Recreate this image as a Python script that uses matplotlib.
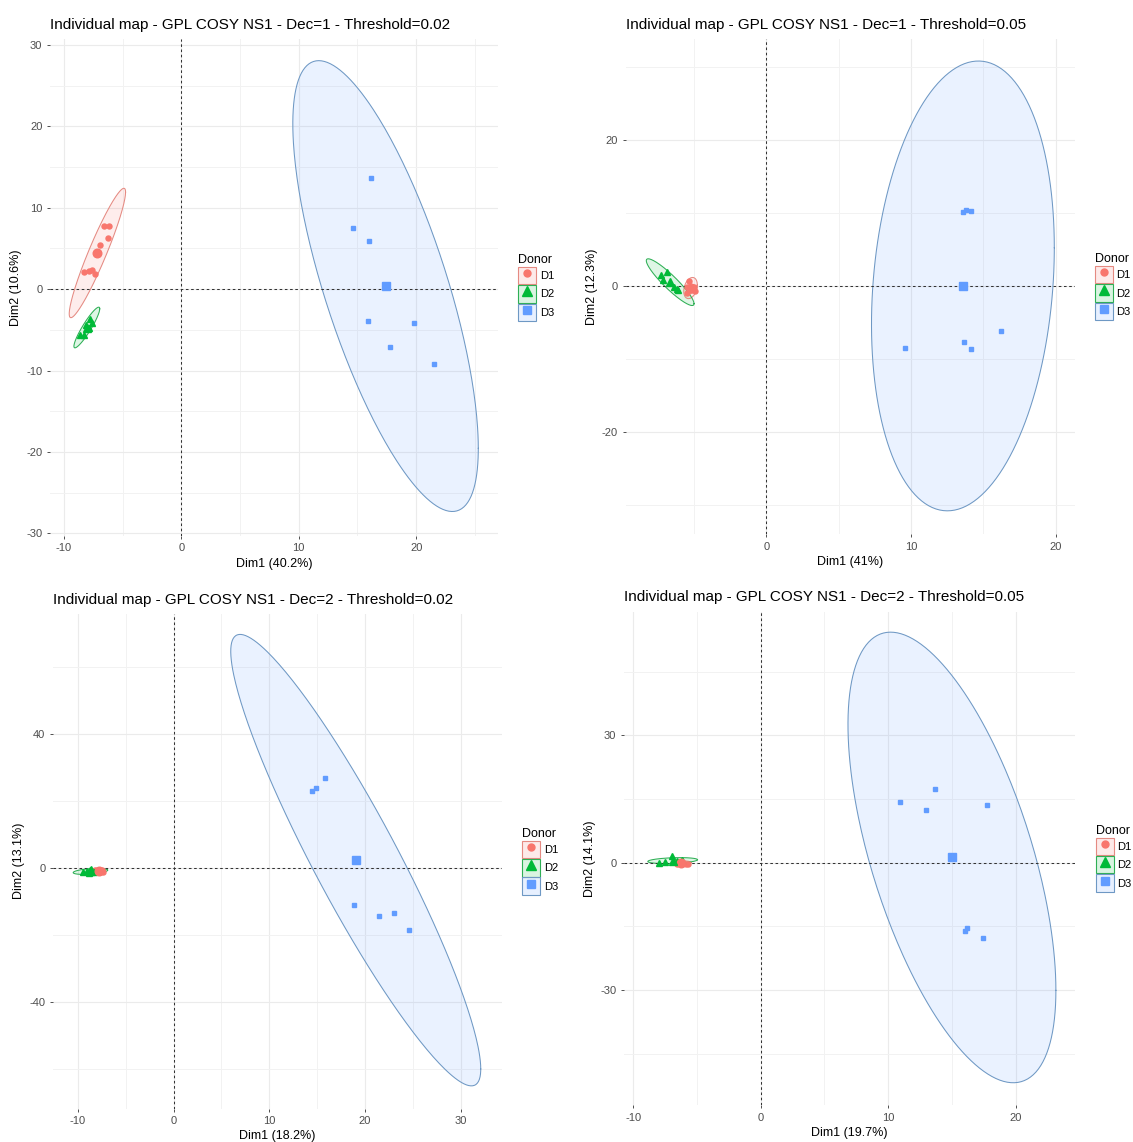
import numpy as np
import matplotlib
matplotlib.use('Agg')
import matplotlib.pyplot as plt
from matplotlib.lines import Line2D
from matplotlib.patches import Patch
from matplotlib.colors import to_rgba
from matplotlib.ticker import MultipleLocator

plt.rcParams['font.family'] = ['Liberation Sans', 'DejaVu Sans']
plt.rcParams['axes.unicode_minus'] = False

donors = ['D1', 'D2', 'D3']
colors = {'D1': '#F8766D', 'D2': '#00BA38', 'D3': '#619CFF'}
edge_colors = {'D1': '#E58A82', 'D2': '#2EAF55', 'D3': '#6E98C4'}
markers = {'D1': 'o', 'D2': '^', 'D3': 's'}

titles = ['Individual map - GPL COSY NS1 - Dec=1 - Threshold=0.02',
          'Individual map - GPL COSY NS1 - Dec=1 - Threshold=0.05',
          'Individual map - GPL COSY NS1 - Dec=2 - Threshold=0.02',
          'Individual map - GPL COSY NS1 - Dec=2 - Threshold=0.05']
xlabels = ['Dim1 (40.2%)', 'Dim1 (41%)', 'Dim1 (18.2%)', 'Dim1 (19.7%)']
ylabels = ['Dim2 (10.6%)', 'Dim2 (12.3%)', 'Dim2 (13.1%)', 'Dim2 (14.1%)']

# individual coordinates
dec1_002_x = {'D1': [-6.55, -6.15, -6.27, -6.9, -8.3, -7.9, -7.6, -7.38, -7.3],
              'D2': [-7.8, -7.57, -8.11, -8.26, -8.66, -7.9],
              'D3': [16.15, 14.6, 15.97, 15.9, 19.86, 17.79, 21.5]}
dec1_002_y = {'D1': [7.75, 7.75, 6.27, 5.4, 2.1, 2.25, 2.3, 1.85, 4.3],
              'D2': [-3.7, -4.2, -4.4, -5.6, -5.6, -4.8],
              'D3': [13.66, 7.56, 5.9, -3.9, -4.2, -7.14, -9.26]}
# ellipse spread: sd x, sd y, correlation
dec1_002_ell = {'D1': (2.4, 7.95, 0.94), 'D2': (1.1, 2.5, 0.92), 'D3': (7.9, 27.7, -0.72)}

dec1_005_x = {'D1': [-5.34, -5.52, -5.01, -5.24, -4.92, -5.48],
              'D2': [-7.26, -6.88, -7.13, -6.19, -6.4, -6.1],
              'D3': [13.6, 13.78, 14.11, 9.61, 13.65, 14.11, 16.21]}
dec1_005_y = {'D1': [0.68, -0.14, -0.14, -0.59, -0.68, -1.04],
              'D2': [1.47, 1.86, 0.83, -0.39, -0.24, -0.6],
              'D3': [10.12, 10.37, 10.27, -8.46, -7.68, -8.6, -6.21]}
dec1_005_ell = {'D1': (0.47, 1.45, 0.3), 'D2': (1.65, 3.2, -0.92), 'D3': (6.32, 30.8, 0.17)}

dec2_002_x = {'D1': [-8.2, -7.8, -7.4, -8.1, -7.5, -7.8],
              'D2': [-9.5, -9.0, -8.6, -8.3, -8.8, -7.9],
              'D3': [14.51, 14.93, 15.82, 18.88, 21.49, 23.06, 24.59]}
dec2_002_y = {'D1': [-0.5, -0.9, -1.1, -1.0, -0.6, -0.4],
              'D2': [-1.0, -0.9, -0.2, -1.2, -1.3, -0.9],
              'D3': [23.02, 24.09, 26.98, -11.03, -14.24, -13.28, -18.42]}
dec2_002_ell = {'D1': (0.7, 0.6, 0.2), 'D2': (1.8, 0.9, 0.4), 'D3': (13.06, 67.35, -0.925)}

dec2_005_x = {'D1': [-6.6, -6.3, -5.7, -6.5, -5.9, -6.6],
              'D2': [-8.0, -7.5, -7.0, -6.6, -6.2, -6.2],
              'D3': [10.95, 12.99, 13.65, 17.78, 16.06, 16.17, 17.44]}
dec2_005_y = {'D1': [-0.3, 0.2, -0.2, 0.1, -0.3, 0.1],
              'D2': [0.0, 0.2, 1.5, 0.3, 0.6, 0.4],
              'D3': [14.37, 12.43, 17.33, 13.69, -16.15, -15.3, -17.67]}
dec2_005_ell = {'D1': (0.8, 0.5, 0.2), 'D2': (1.95, 0.7, 0.3), 'D3': (8.16, 53.1, -0.59)}

panel_x = [dec1_002_x, dec1_005_x, dec2_002_x, dec2_005_x]
panel_y = [dec1_002_y, dec1_005_y, dec2_002_y, dec2_005_y]
panel_ell = [dec1_002_ell, dec1_005_ell, dec2_002_ell, dec2_005_ell]

xlims = [(-11.19, 26.97), (-9.73, 21.3), (-12.6, 34.3), (-10.73, 24.7)]
ylims = [(-30.3, 30.7), (-34.0, 33.75), (-71.7, 75.9), (-57.1, 59.2)]
ysteps = [10, 20, 40, 30]

# axes boxes in figure fraction
boxes = [(0.0441, 0.5309, 0.3954, 0.4347),
         (0.5523, 0.5324, 0.3961, 0.4332),
         (0.0467, 0.0292, 0.3962, 0.4332),
         (0.5508, 0.0324, 0.3984, 0.4321)]


def ellipse_xy(cx, cy, sx, sy, r, n=300):
    t = np.linspace(0, 2 * np.pi, n)
    x = cx + sx * np.cos(t)
    y = cy + sy * (r * np.cos(t) + np.sqrt(1 - r * r) * np.sin(t))
    return x, y


fig = plt.figure(figsize=(11.33, 11.42), dpi=100)

for i in range(4):
    ax = fig.add_axes(boxes[i])
    xs, ys, ells = panel_x[i], panel_y[i], panel_ell[i]
    for d in donors:
        c = colors[d]
        mx, my = np.mean(xs[d]), np.mean(ys[d])
        ex, ey = ellipse_xy(mx, my, *ells[d])
        ax.fill(ex, ey, facecolor=c, alpha=0.13, zorder=1, lw=0)
        ax.plot(ex, ey, color=edge_colors[d], lw=0.75, zorder=2)
        ms = {'D1': 3.6, 'D2': 4.2, 'D3': 3.3}[d]
        ax.plot(xs[d], ys[d], ls='none', marker=markers[d], color=c, ms=ms, zorder=4)
        ax.plot([mx], [my], ls='none', marker=markers[d], color=c, ms=6.2, zorder=5)

    ax.axhline(0, color='#333333', lw=0.75, ls=(0, (2.5, 2.5)), zorder=3)
    ax.axvline(0, color='#333333', lw=0.75, ls=(0, (2.5, 2.5)), zorder=3)

    ax.set_xlim(*xlims[i])
    ax.set_ylim(*ylims[i])
    ax.xaxis.set_major_locator(MultipleLocator(10))
    ax.xaxis.set_minor_locator(MultipleLocator(5))
    ax.yaxis.set_major_locator(MultipleLocator(ysteps[i]))
    ax.yaxis.set_minor_locator(MultipleLocator(ysteps[i] / 2))
    ax.grid(which='major', color='#EBEBEB', lw=0.8, zorder=0)
    ax.grid(which='minor', color='#F2F2F2', lw=0.7, zorder=0)
    ax.set_axisbelow(True)
    for s in ax.spines.values():
        s.set_visible(False)
    ax.tick_params(which='major', length=2.5, width=0.6, color='#333333',
                   labelsize=8, labelcolor='#4D4D4D', pad=3)
    ax.tick_params(which='minor', length=0)

    ax.set_title(titles[i], loc='left', fontsize=11, pad=7.5)
    ax.set_xlabel(xlabels[i], fontsize=9, labelpad=3)
    ax.set_ylabel(ylabels[i], fontsize=9, labelpad=3)

    handles = []
    for d in donors:
        c = colors[d]
        box = Patch(facecolor=to_rgba(c, 0.15), edgecolor=edge_colors[d], lw=0.8)
        mk = Line2D([], [], ls='none', marker=markers[d], color=c,
                    ms={'D1': 5.0, 'D2': 6.5, 'D3': 5.3}[d])
        handles.append((box, mk))
    ax.legend(handles, donors, title='Donor', loc='center left',
              bbox_to_anchor=(1.045, 0.5), frameon=False, borderaxespad=0,
              borderpad=0, handlelength=1.6, handleheight=2.05,
              handletextpad=0.35, labelspacing=0.08, fontsize=8,
              title_fontsize=9, alignment='left')

fig.savefig('out.png', dpi=100)
